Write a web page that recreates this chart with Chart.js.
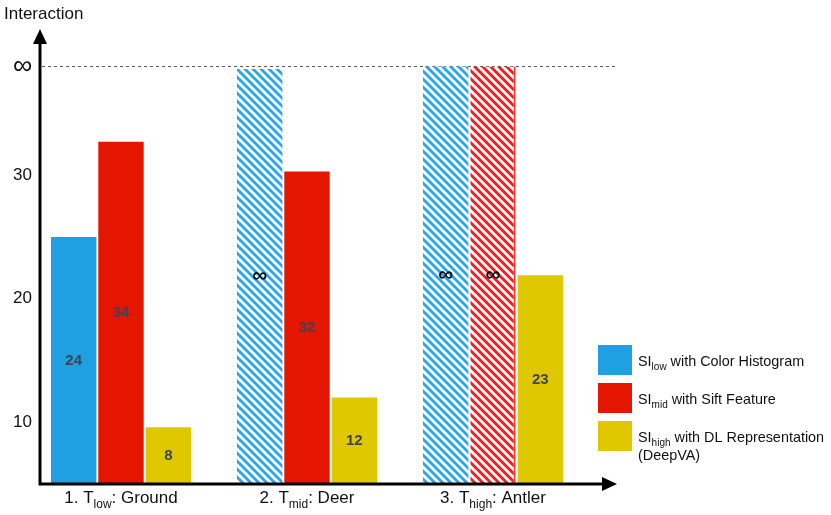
<!DOCTYPE html>
<html>
<head>
<meta charset="utf-8">
<script src="https://cdn.jsdelivr.net/npm/chart.js@4.4.1/dist/chart.umd.min.js"></script>
<style>
  html, body { margin: 0; padding: 0; background: #fff; }
</style>
</head>
<body>
<canvas id="chart" width="831" height="515"></canvas>
<script>
// text in {braces} is drawn as a subscript
const categories = ['1. T{low}: Ground', '2. T{mid}: Deer', '3. T{high}: Antler'];
const seriesNames = [
  'SI{low} with Color Histogram',
  'SI{mid} with Sift Feature',
  'SI{high} with DL Representation\n(DeepVA)',
];

// the "infinite" level, where the dashed line sits
const INF = 38.8;

// bar heights
const colorHistogram = [25.0, 38.6, INF];
const siftFeature = [32.7, 30.3, INF];
const deepVA = [9.6, 12.0, 21.9];

// numbers printed inside the bars
const colorHistogramLabels = ['24', '∞', '∞'];
const siftFeatureLabels = ['34', '32', '∞'];
const deepVALabels = ['8', '12', '23'];

const yTicks = [10, 20, 30, INF];
const yTickLabels = ['10', '20', '30', '∞'];

const FONT = '"Liberation Sans", Arial, Helvetica, sans-serif';
const colors = ['#1ea0e2', '#e41600', '#e0c800'];
const hatchColors = ['#22a6ee', '#f21c1c', '#e0c800'];

function hatch(color) {
  const n = 8;
  const c = document.createElement('canvas');
  c.width = n;
  c.height = n;
  const g = c.getContext('2d');
  g.fillStyle = '#fff';
  g.fillRect(0, 0, n, n);
  g.strokeStyle = color;
  g.lineWidth = 2.8;
  g.beginPath();
  for (const k of [-n, 0, n]) {
    g.moveTo(k - 1, -1);
    g.lineTo(k + n + 1, n + 1);
  }
  g.stroke();
  return g.createPattern(c, 'repeat');
}

function drawRich(ctx, str, x, y, size, align) {
  const parts = str.split(/\{([^}]*)\}/);
  const subSize = Math.round(size * 0.72);
  let total = 0;
  parts.forEach((p, i) => {
    ctx.font = (i % 2 ? subSize : size) + 'px ' + FONT;
    total += ctx.measureText(p).width;
  });
  let cx = align === 'center' ? x - total / 2 : x;
  ctx.textAlign = 'left';
  ctx.textBaseline = 'alphabetic';
  parts.forEach((p, i) => {
    const sub = i % 2 === 1;
    ctx.font = (sub ? subSize : size) + 'px ' + FONT;
    ctx.fillText(p, cx, sub ? y + size * 0.28 : y);
    cx += ctx.measureText(p).width;
  });
}

const labelSets = [colorHistogramLabels, siftFeatureLabels, deepVALabels];
const valueSets = [colorHistogram, siftFeature, deepVA];

const datasets = valueSets.map((vals, i) => ({
  label: seriesNames[i],
  data: vals,
  backgroundColor: labelSets[i].map(l => (l === '∞' ? hatch(hatchColors[i]) : colors[i])),
  borderColor: '#f03a3a',
  borderWidth: labelSets[i].map(l => (l === '∞' && i === 1 ? { right: 2 } : 0)),
  borderSkipped: false,
  barPercentage: 0.96,
  categoryPercentage: 0.763,
}));

const decor = {
  id: 'decor',
  beforeDatasetsDraw(chart) {
    const ctx = chart.ctx;
    const y = chart.scales.y.getPixelForValue(INF);
    ctx.save();
    ctx.strokeStyle = '#555';
    ctx.lineWidth = 1;
    ctx.setLineDash([3, 3]);
    ctx.beginPath();
    ctx.moveTo(42, y);
    ctx.lineTo(617, y);
    ctx.stroke();
    ctx.restore();
  },
  afterDatasetsDraw(chart) {
    const ctx = chart.ctx;
    const bottom = chart.chartArea.bottom;
    ctx.save();
    ctx.textAlign = 'center';
    ctx.textBaseline = 'middle';
    chart.data.datasets.forEach((ds, i) => {
      chart.getDatasetMeta(i).data.forEach((bar, j) => {
        const text = labelSets[i][j];
        const cy = (bar.y + Math.min(bar.base, bottom)) / 2;
        if (text === '∞') {
          ctx.fillStyle = '#111';
          ctx.font = 'bold 21px ' + FONT;
        } else {
          ctx.fillStyle = '#3a4558';
          ctx.font = 'bold 15px ' + FONT;
        }
        ctx.fillText(text, bar.x, cy);
      });
    });
    ctx.restore();
  },
  afterDraw(chart) {
    const ctx = chart.ctx;
    const xs = chart.scales.x;
    const bottom = chart.chartArea.bottom;
    ctx.save();
    ctx.fillStyle = '#000';
    ctx.strokeStyle = '#000';
    ctx.lineWidth = 3;

    // axes with arrow heads
    ctx.beginPath();
    ctx.moveTo(40, bottom + 1.5);
    ctx.lineTo(40, 42);
    ctx.moveTo(38.5, bottom);
    ctx.lineTo(604, bottom);
    ctx.stroke();
    ctx.beginPath();
    ctx.moveTo(40, 29);
    ctx.lineTo(33, 44);
    ctx.lineTo(47, 44);
    ctx.closePath();
    ctx.fill();
    ctx.beginPath();
    ctx.moveTo(617, bottom);
    ctx.lineTo(602, bottom - 7);
    ctx.lineTo(602, bottom + 7);
    ctx.closePath();
    ctx.fill();

    // axis title and category labels
    ctx.fillStyle = '#111';
    drawRich(ctx, 'Interaction', 4, 19, 17, 'left');
    categories.forEach((c, i) => {
      drawRich(ctx, c, xs.getPixelForValue(i), 503, 17, 'center');
    });

    // legend
    const boxTop = [345, 383, 421];
    seriesNames.forEach((name, i) => {
      ctx.fillStyle = colors[i];
      ctx.fillRect(598, boxTop[i], 34, 30);
      ctx.fillStyle = '#111';
      name.split('\n').forEach((line, k) => {
        drawRich(ctx, line, 638, boxTop[i] + 21 + k * 18, 14.4, 'left');
      });
    });
    ctx.restore();
  },
};

new Chart(document.getElementById('chart'), {
  type: 'bar',
  data: { labels: categories, datasets: datasets },
  options: {
    responsive: false,
    animation: false,
    layout: { padding: { top: 27, bottom: 31, left: 0, right: 245 } },
    plugins: {
      legend: { display: false },
      tooltip: { enabled: false },
    },
    scales: {
      x: {
        type: 'category',
        offset: true,
        grid: { display: false },
        border: { display: false },
        ticks: { display: false },
        afterFit: s => { s.height = 0; },
      },
      y: {
        type: 'linear',
        min: 5,
        max: 42,
        grid: { display: false, drawTicks: false },
        border: { display: false },
        afterBuildTicks: s => { s.ticks = yTicks.map(v => ({ value: v })); },
        afterFit: s => { s.width = 28; },
        ticks: {
          mirror: true,
          padding: -15,
          color: '#111',
          font: ctx => (ctx.tick && ctx.tick.value === INF
            ? { size: 27, family: FONT }
            : { size: 17, family: FONT }),
          callback: (v, i) => yTickLabels[i],
        },
      },
    },
  },
  plugins: [decor],
});
</script>
</body>
</html>
